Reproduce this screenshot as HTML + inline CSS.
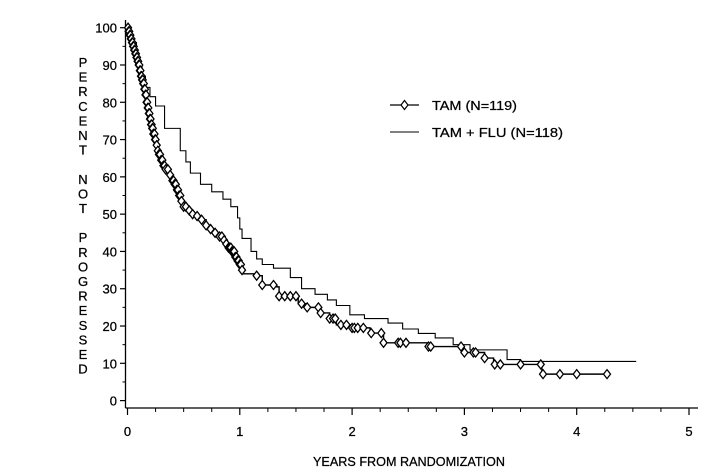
<!DOCTYPE html>
<html><head><meta charset="utf-8"><style>
html,body{margin:0;padding:0;background:#fff;width:710px;height:471px;overflow:hidden}
svg text{font-family:"Liberation Sans","DejaVu Sans",sans-serif;font-size:13px;fill:#000;stroke:#000;stroke-width:0.25}
</style></head><body>
<svg id="chart" width="710" height="471" viewBox="0 0 710 471" xmlns="http://www.w3.org/2000/svg">
<g id="axes"></g>
<g id="series"></g>
<g id="legend">
  <line x1="390" y1="105" x2="419" y2="105" stroke="#000" stroke-width="1.2"/>
  <path d="M404.5 100.5 L408 105 L404.5 109.5 L401 105 Z" fill="#fff" stroke="#000" stroke-width="1.2"/>
  <text x="432" y="110" textLength="85" lengthAdjust="spacingAndGlyphs">TAM (N=119)</text>
  <line x1="390" y1="132" x2="419" y2="132" stroke="#000" stroke-width="1"/>
  <text x="432" y="137" textLength="131" lengthAdjust="spacingAndGlyphs">TAM + FLU (N=118)</text>
</g>
<text x="313" y="466" textLength="192" lengthAdjust="spacingAndGlyphs">YEARS FROM RANDOMIZATION</text>
<g id="ytitle"></g>
</svg>
<script>
const xTicks=[0,1,2,3,4,5];
const yTicks=[0,10,20,30,40,50,60,70,80,90,100];
const fluTimes=[0,0.02,0.05,0.08,0.1,0.13,0.16,0.2,0.25,0.33,0.47,0.52,0.56,0.65,0.75,0.85,0.92,0.98,1.0,1.02,1.1,1.15,1.2,1.3,1.45,1.55,1.67,1.78,1.86,1.98,2.11,2.32,2.45,2.59,2.74,2.9,3.05,3.38,3.5,4.53];
const fluSurv=[100,98,96,93,90,87,84,81.5,79,73,67,64,61,58,56,54,52,49,46,43.5,40,38,36.5,35.5,33,30,28.5,27,25.5,23,22,20.8,19.2,18,16.8,15,13.6,11,10.5,10.5];
const tamTimes=[0,0.01,0.02,0.03,0.04,0.05,0.06,0.07,0.08,0.09,0.1,0.11,0.12,0.13,0.14,0.15,0.16,0.17,0.18,0.19,0.2,0.21,0.22,0.23,0.245,0.26,0.27,0.28,0.3,0.32,0.34,0.37,0.4,0.42,0.44,0.46,0.48,0.5,0.53,0.57,0.61,0.65,0.7,0.73,0.76,0.8,0.85,0.88,0.9,0.93,0.96,0.98,1.0,1.02,1.03,1.15,1.2,1.33,1.35,1.52,1.6,1.71,1.8,1.86,1.99,2.16,2.28,2.68,2.99,3.18,3.26,3.69,4.27];
const tamSurv=[100,99,98,97,96,95,94,93,92,91,90,88.5,87,86,85,83.5,82,80,78.5,77,75.5,74,73,71.5,70,68.5,67,66,64.5,63,62,60.5,59,58,56.5,55,53.5,52,51,50,49.5,48.5,47,46,45,44,43,42,41,40,38.5,37.5,36.5,35,34,33.5,31,30.5,28,26,25,23.5,22,20.3,19.5,18.1,15.5,14.5,12.9,11.4,9.7,7.1,7.1];
const censorTimes=[0.005,0.01,0.015,0.02,0.025,0.03,0.035,0.04,0.045,0.05,0.055,0.06,0.065,0.07,0.075,0.08,0.085,0.09,0.095,0.1,0.105,0.11,0.115,0.12,0.125,0.13,0.135,0.14,0.145,0.15,0.155,0.16,0.165,0.17,0.175,0.18,0.185,0.19,0.195,0.2,0.205,0.21,0.215,0.22,0.225,0.23,0.235,0.24,0.245,0.25,0.26,0.27,0.28,0.29,0.3,0.31,0.32,0.33,0.34,0.36,0.38,0.4,0.41,0.42,0.43,0.44,0.45,0.46,0.47,0.48,0.5,0.52,0.55,0.58,0.62,0.66,0.7,0.74,0.78,0.82,0.84,0.86,0.88,0.9,0.91,0.92,0.93,0.94,0.95,0.96,0.97,0.98,0.99,1.0,1.01,1.02,1.15,1.2,1.3,1.35,1.4,1.45,1.5,1.55,1.6,1.7,1.72,1.8,1.83,1.85,1.9,1.95,2.0,2.02,2.05,2.1,2.17,2.26,2.28,2.41,2.43,2.48,2.68,2.7,2.97,3.0,3.08,3.1,3.18,3.27,3.32,3.5,3.68,3.7,3.85,4.0,4.27];

const NS="http://www.w3.org/2000/svg";
const X0=127.5, XS=112.3, Y0=400.6, YS=3.729;
const sx=t=>X0+t*XS, sy=v=>Y0-v*YS;
function el(tag,attrs,parent){const e=document.createElementNS(NS,tag);for(const k in attrs)e.setAttribute(k,attrs[k]);parent.appendChild(e);return e;}
const axes=document.getElementById('axes');
let a=el('line',{x1:125.5,y1:20,x2:125.5,y2:408,stroke:'#000','stroke-width':1.3},axes);


a=el('line',{x1:125.5,y1:408,x2:698,y2:408,stroke:'#000','stroke-width':1.3},axes);


yTicks.forEach(v=>{
  const t=el('line',{x1:120,y1:sy(v),x2:125.5,y2:sy(v),stroke:'#000','stroke-width':1.2},axes);
  
  
  if(v<100){const m=el('line',{x1:122.5,y1:sy(v+5),x2:125.5,y2:sy(v+5),stroke:'#000','stroke-width':1},axes);
  
  }
  const l=el('text',{x:117,y:sy(v)+5,'text-anchor':'end'},axes);l.textContent=v;
  
  
});
xTicks.forEach(v=>{
  const t=el('line',{x1:sx(v),y1:408,x2:sx(v),y2:415,stroke:'#000','stroke-width':1.2},axes);
  
  
  if(v<5){[0.25,0.5,0.75].forEach(f=>{const m=el('line',{x1:sx(v+f),y1:408,x2:sx(v+f),y2:412,stroke:'#000','stroke-width':1},axes);
  
  });}
  const l=el('text',{x:sx(v),y:436,'text-anchor':'middle'},axes);l.textContent=v;
  
  
});
function stepPath(ts,ss){let d='M'+sx(ts[0])+' '+sy(ss[0]);for(let i=1;i<ts.length;i++){d+=' H'+sx(ts[i])+' V'+sy(ss[i]);}return d;}
const ser=document.getElementById('series');
let p=el('path',{d:stepPath(fluTimes,fluSurv),fill:'none',stroke:'#000','stroke-width':1.1},ser);


p=el('path',{d:stepPath(tamTimes,tamSurv),fill:'none',stroke:'#000','stroke-width':1.4},ser);


function tamAt(t){let v=tamSurv[0];for(let i=0;i<tamTimes.length;i++){if(tamTimes[i]<=t)v=tamSurv[i];}return v;}
censorTimes.forEach(t=>{
  const x=sx(t),y=sy(tamAt(t));
  const m=el('path',{d:`M${x} ${y-4.5} L${x+3.5} ${y} L${x} ${y+4.5} L${x-3.5} ${y} Z`,fill:'#fff',stroke:'#000','stroke-width':1.3},ser);
  
  
});
const yt=document.getElementById('ytitle');
const letters=['P','E','R','C','E','N','T','','N','O','T','','P','R','O','G','R','E','S','S','E','D'];
letters.forEach((c,i)=>{if(!c)return;const t=el('text',{x:83,y:67+i*14.6,'text-anchor':'middle'},yt);t.textContent=c;
  
  });
</script>
</body></html>
